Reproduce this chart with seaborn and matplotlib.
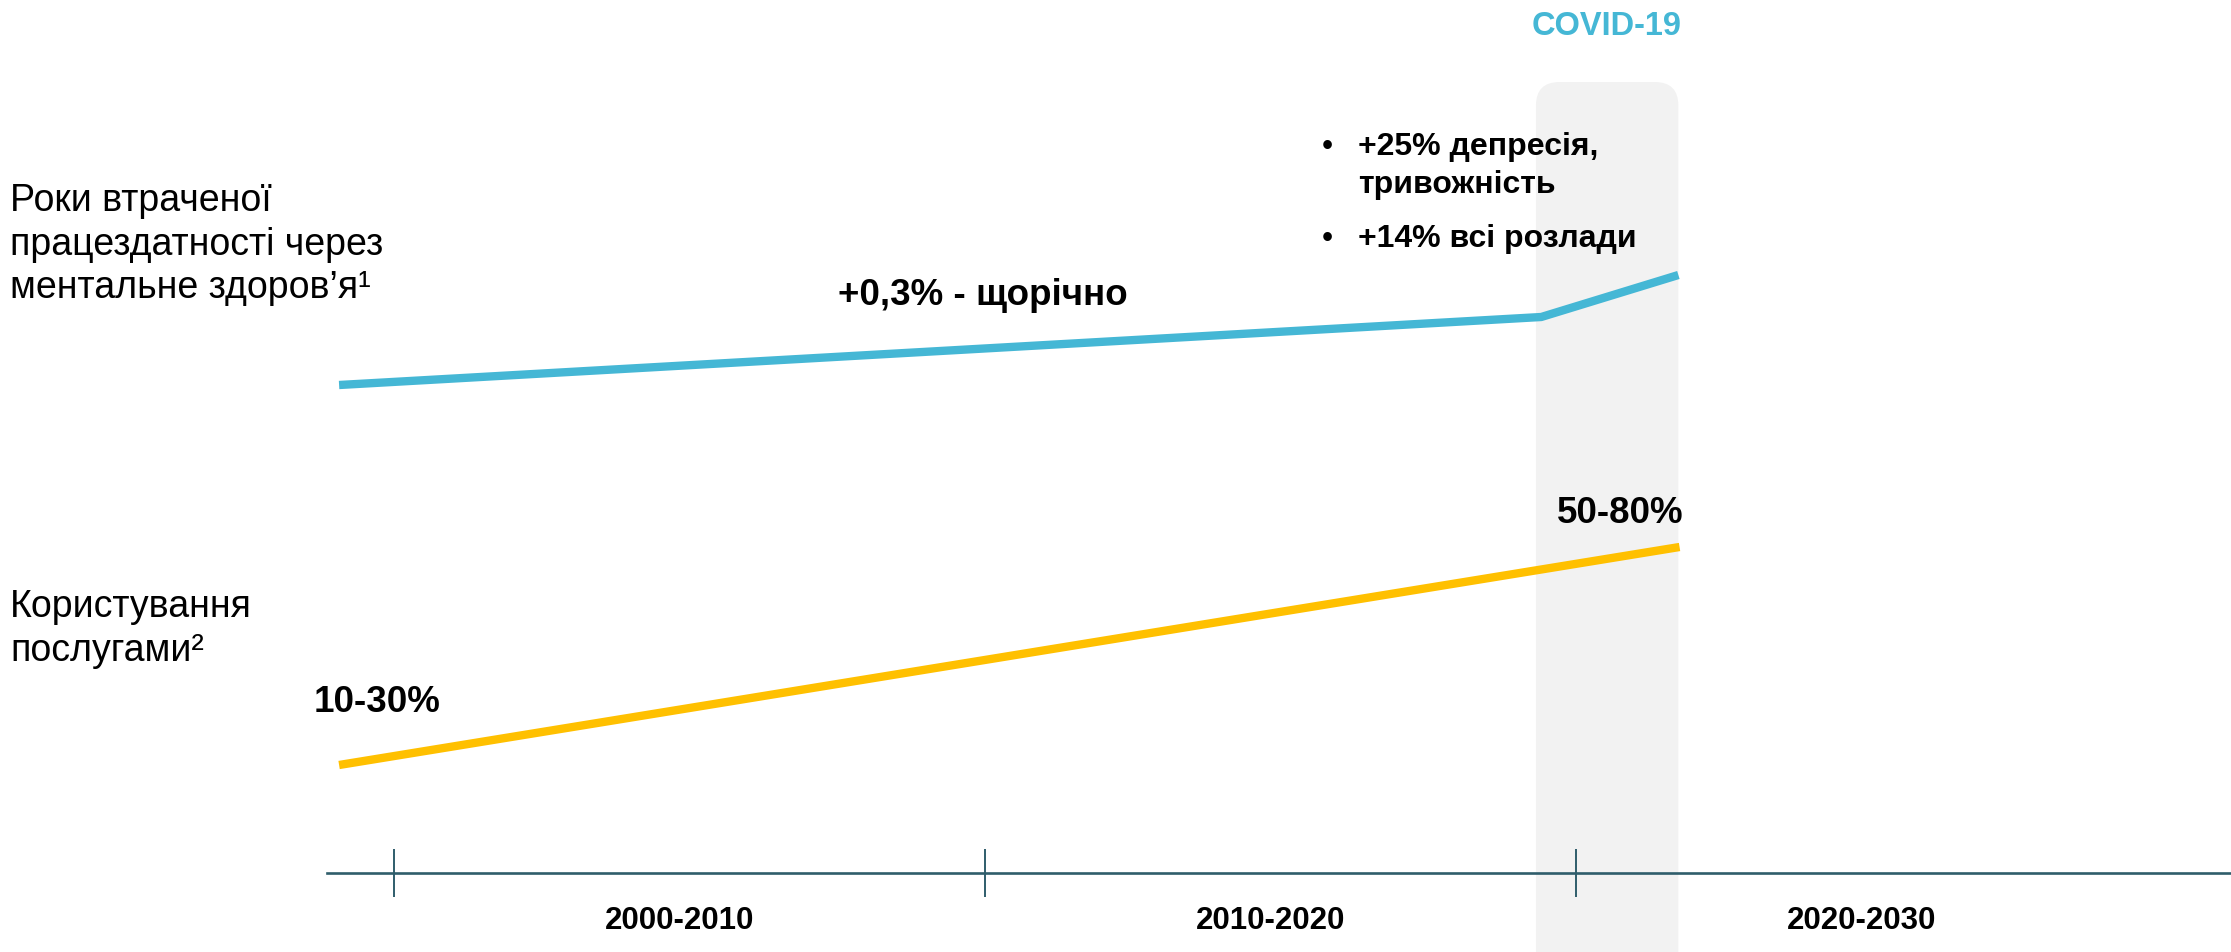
import numpy as np
import pandas as pd
import matplotlib.pyplot as plt
import seaborn as sns
from matplotlib.patches import FancyBboxPatch

# Дані (схематичний індекс, роки по осі X)
years_lost = [1999.07, 2019.41, 2021.73]
lost_index = [567, 635, 677]
years_use = [1999.07, 2021.75]
use_index = [187, 405]

period_ticks = [2000, 2010, 2020]
period_centers = [2005, 2015, 2025]
period_labels = ['2000-2010', '2010-2020', '2020-2030']

BLUE = '#45B7D5'
YELLOW = '#FFC000'
AXIS = '#2F5D6B'
W, H = 2231, 952
LABEL_SHIFT = -0.17  # підписи трохи лівіше центру


def fx(px):
    return px / W


def fy(py):
    return 1 - py / H


sns.set_style("white")
plt.rcParams['font.family'] = ['Liberation Sans', 'DejaVu Sans']
plt.rcParams['text.color'] = 'black'
plt.rcParams['xtick.labelcolor'] = 'black'

fig = plt.figure(figsize=(22.31, 9.52), dpi=100)
ax = fig.add_axes([0, 0, 1, 1])
ax.set_xlim(1993.333, 2031.08)
ax.set_ylim(0, H)

# COVID смуга
band = FancyBboxPatch((2019.32, -100), 2.41, 970,
                      boxstyle="round,pad=0,rounding_size=0.4",
                      mutation_aspect=59.1, fc='#F2F2F2', ec='none', zorder=0)
ax.add_patch(band)

df_lost = pd.DataFrame({'year': years_lost, 'value': lost_index})
df_use = pd.DataFrame({'year': years_use, 'value': use_index})
sns.lineplot(data=df_lost, x='year', y='value', color=BLUE, lw=6, ax=ax,
             solid_capstyle='butt', zorder=3)
sns.lineplot(data=df_use, x='year', y='value', color=YELLOW, lw=6, ax=ax,
             solid_capstyle='butt', zorder=3)

# вісь часу
for s in ['top', 'left', 'right']:
    ax.spines[s].set_visible(False)
ax.spines['bottom'].set_position(('data', 79))
ax.spines['bottom'].set_bounds(1998.87, 2031.08)
ax.spines['bottom'].set_color(AXIS)
ax.spines['bottom'].set_linewidth(1.9)
ax.spines['bottom'].set_zorder(2)
ax.set_xticks(period_ticks, ['', '', ''])
ax.set_xticks([c + LABEL_SHIFT for c in period_centers], period_labels, minor=True)
ax.tick_params(axis='x', which='major', direction='inout', length=34.6,
               width=1.4, color=AXIS, bottom=True)
ax.tick_params(axis='x', which='minor', length=0, pad=24, labelsize=22.5)
for t in ax.get_xticklabels(minor=True):
    t.set_fontweight('bold')
ax.set_yticks([])
ax.set_xlabel('')
ax.set_ylabel('')

# підписи зліва
for txt, y in [('Роки втраченої', 211), ('працездатності через', 255),
               ('ментальне здоров’я¹', 298),
               ('Користування', 617), ('послугами²', 661)]:
    fig.text(fx(10), fy(y), txt, fontsize=27, va='baseline', ha='left')

fig.text(fx(1607), fy(35), 'COVID-19', fontsize=23.5, fontweight='bold',
         color=BLUE, ha='center', va='baseline')
fig.text(fx(838), fy(305), '+0,3% - щорічно', fontsize=26.5, fontweight='bold',
         va='baseline')

for txt, y, bullet in [('+25% депресія,', 155, True), ('тривожність', 193, False),
                       ('+14% всі розлади', 247, True)]:
    if bullet:
        fig.text(fx(1322), fy(y), '•', fontsize=23, va='baseline', zorder=5)
    fig.text(fx(1358), fy(y), txt, fontsize=23, fontweight='bold',
             va='baseline', zorder=5)

fig.text(fx(314), fy(712), '10-30%', fontsize=26.5, fontweight='bold', va='baseline')
fig.text(fx(1557), fy(523), '50-80%', fontsize=26.5, fontweight='bold', va='baseline')

fig.savefig('out.png', dpi=100)
